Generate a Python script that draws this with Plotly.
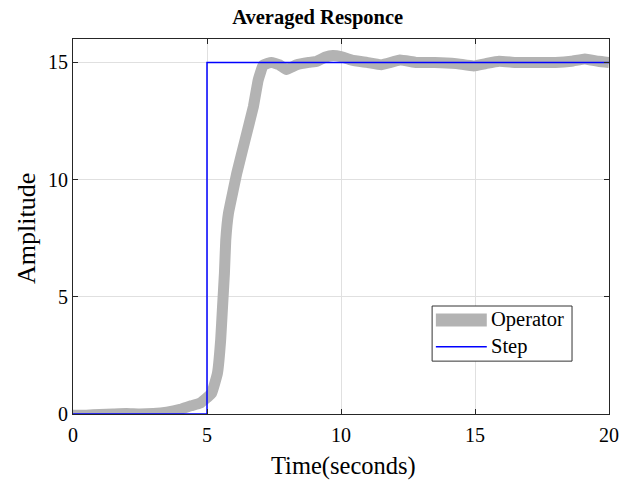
import plotly.graph_objects as go

# Operator averaged response
op_t = [0.0, 0.5, 1.0, 1.5, 2.0, 2.5, 3.0, 3.5, 4.0, 4.4, 4.74, 5.0, 5.17, 5.39, 5.51, 5.58, 5.65, 5.70, 5.80, 5.98, 6.11, 6.42, 6.73, 6.91, 7.1, 7.4, 7.7, 7.97, 8.35, 8.8, 9.1, 9.4, 9.7, 10.0, 10.4, 10.97, 11.5, 12.2, 12.8, 13.5, 14.3, 14.95, 15.4, 15.9, 16.5, 17.2, 18.0, 18.6, 19.1, 19.6, 20.0]
op_y = [-0.05, -0.05, -0.02, 0.0, 0.02, 0.0, 0.02, 0.08, 0.2, 0.35, 0.46, 0.7, 0.88, 1.74, 3.16, 4.58, 6.0, 7.42, 8.56, 9.56, 10.27, 11.69, 13.11, 14.25, 14.89, 15.0, 14.9, 14.7, 14.9, 15.0, 15.05, 15.22, 15.3, 15.25, 15.1, 15.0, 14.9, 15.1, 15.0, 15.0, 14.95, 14.85, 14.95, 15.05, 15.0, 15.0, 15.0, 15.05, 15.15, 15.05, 15.0]

# Step input
step_t = [0, 5, 20]
step_y = [0, 15, 15]

x_ticks = [0, 5, 10, 15, 20]
y_ticks = [0, 5, 10, 15]

series_names = ["Operator", "Step"]
series_colors = ["#b3b3b3", "#0000ff"]

FONT = "Liberation Serif, Times New Roman, serif"

fig = go.Figure()
fig.add_trace(go.Scatter(x=op_t, y=op_y, mode="lines", name=series_names[0],
                         line=dict(color=series_colors[0], width=11, shape="spline", smoothing=0.3)))
fig.add_trace(go.Scatter(x=step_t, y=step_y, mode="lines", name=series_names[1],
                         line=dict(color=series_colors[1], width=1.5, shape="hv")))

fig.update_layout(
    width=623, height=482,
    margin=dict(l=73, r=14, t=39, b=68, autoexpand=False),
    paper_bgcolor="white", plot_bgcolor="white",
    font=dict(family=FONT, size=20, color="black"),
    title=dict(text="<b>Averaged Responce</b>", x=0.51, xanchor="center", y=0.965, yanchor="middle",
               font=dict(family=FONT, size=20.5, color="black")),
    showlegend=False,
)
axis_common = dict(ticks="inside", ticklen=5, tickcolor="#262626",
                   showline=True, linecolor="#262626", linewidth=1, mirror="ticks",
                   showgrid=True, gridcolor="#e0e0e0", gridwidth=1, zeroline=False,
                   automargin=False, tickfont=dict(family=FONT, size=20, color="black"))
fig.update_xaxes(range=[0, 20], tickvals=x_ticks, ticklabelstandoff=3, **axis_common)
fig.update_yaxes(range=[0, 16], tickvals=y_ticks, **axis_common)

# axis titles
fig.add_annotation(text="Time(seconds)", xref="paper", yref="paper", x=0.504, y=-0.139,
                   xanchor="center", yanchor="middle", showarrow=False,
                   font=dict(family=FONT, size=24.5, color="black"))
fig.add_annotation(text="Amplitude", xref="paper", yref="paper", x=-0.0877, y=0.496,
                   xanchor="center", yanchor="middle", showarrow=False, textangle=-90,
                   font=dict(family=FONT, size=26, color="black"))

# legend (drawn box, MATLAB style)
fig.add_shape(type="rect", xref="paper", yref="paper", x0=0.670, x1=0.931, y0=0.141, y1=0.288,
              line=dict(color="#333333", width=1), fillcolor="white", layer="above")
leg_y = [0.2507, 0.1795]
leg_w = [13, 1.5]
for name, col, yy, w in zip(series_names, series_colors, leg_y, leg_w):
    fig.add_shape(type="line", xref="paper", yref="paper", x0=0.677, x1=0.772, y0=yy, y1=yy,
                  line=dict(color=col, width=w), layer="above")
    fig.add_annotation(text=name, xref="paper", yref="paper", x=0.776, y=yy,
                       xanchor="left", yanchor="middle", showarrow=False,
                       font=dict(family=FONT, size=20.5, color="black"))

fig.write_html("out.html")
